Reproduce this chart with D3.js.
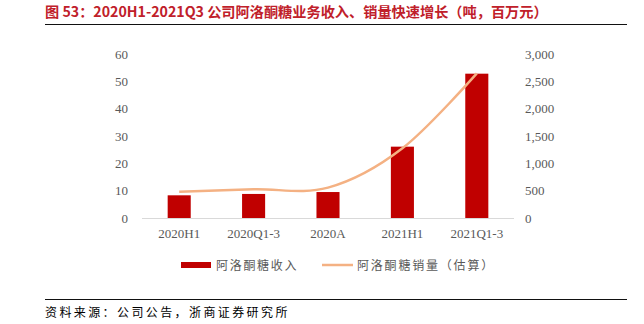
<!DOCTYPE html>
<html><head><meta charset="utf-8">
<script src="https://cdn.jsdelivr.net/npm/d3@7"></script>
<style>body{margin:0;background:#fff}svg{display:block}</style>
</head><body>
<script>
const categories = ["2020H1","2020Q1-3","2020A","2021H1","2021Q1-3"];
const revenue = [8.3, 8.8, 9.5, 26.1, 52.8];
const volume = [480, 525, 555, 1275, 2645];
const leftTicks = [0,10,20,30,40,50,60];
const rightTicks = [0,500,1000,1500,2000,2500,3000];
const seriesNames = ["阿洛酮糖收入","阿洛酮糖销量（估算）"];
const title = "图 53：2020H1-2021Q3 公司阿洛酮糖业务收入、销量快速增长（吨，百万元）";
const source = "资料来源：公司公告，浙商证券研究所";

const W=644,H=324;
const svg=d3.select("body").append("svg").attr("width",W).attr("height",H);
const x=d3.scaleBand().domain(categories).range([142,514]).paddingInner(0.69).paddingOuter(0.345);
const yL=d3.scaleLinear().domain([0,60]).range([218,54]);
const yR=d3.scaleLinear().domain([0,3000]).range([218,54]);

// title
svg.append("text").attr("x",45).attr("y",17).attr("fill","#C0202A")
  .attr("font-family","'Noto Sans CJK SC','Liberation Sans',sans-serif").attr("font-weight","bold")
  .attr("font-size",14.2).text(title);
svg.append("line").attr("x1",45).attr("x2",627).attr("y1",24.5).attr("y2",24.5).attr("stroke","#111").attr("stroke-width",1);

// axes
const axL=svg.append("g").attr("transform","translate(134,0)").call(d3.axisLeft(yL).tickValues(leftTicks).tickSize(0).tickPadding(0));
const axR=svg.append("g").attr("transform","translate(525,0)").call(d3.axisRight(yR).tickValues(rightTicks).tickSize(0).tickPadding(0).tickFormat(d3.format(",")));
const axX=svg.append("g").attr("transform","translate(0,218)").call(d3.axisBottom(x).tickSize(0).tickPadding(11));
[axL,axR,axX].forEach(a=>{a.select(".domain").remove();
  a.selectAll("text").attr("font-family","'Liberation Serif','Times New Roman',serif").attr("font-size",13).attr("fill","#595959");});
axL.selectAll("text").attr("dx",-6);

// bars
svg.append("g").selectAll("rect").data(categories).join("rect")
  .attr("x",d=>x(d)).attr("width",x.bandwidth())
  .attr("y",(d,i)=>yL(revenue[i])).attr("height",(d,i)=>yL(0)-yL(revenue[i]))
  .attr("fill","#C00000");
svg.append("line").attr("x1",142).attr("x2",514).attr("y1",218.5).attr("y2",218.5).attr("stroke","#D9D9D9").attr("stroke-width",1);

// line
const line=d3.line().x((d,i)=>x(categories[i])+x.bandwidth()/2).y(d=>yR(d)).curve(d3.curveCardinal.tension(0));
svg.append("path").datum(volume).attr("d",line).attr("fill","none").attr("stroke","#F4B183").attr("stroke-width",2.5);

// legend
const lf="'Noto Sans CJK SC',sans-serif";
svg.append("rect").attr("x",181).attr("y",262).attr("width",30).attr("height",6).attr("fill","#C00000");
svg.append("text").attr("x",216).attr("y",269.5).attr("font-family",lf).attr("font-size",12).attr("letter-spacing",1.7).attr("fill","#595959").text(seriesNames[0]);
svg.append("line").attr("x1",322).attr("x2",353).attr("y1",265).attr("y2",265).attr("stroke","#F4B183").attr("stroke-width",2.5);
svg.append("text").attr("x",357).attr("y",269.5).attr("font-family",lf).attr("font-size",12).attr("letter-spacing",1.8).attr("fill","#595959").text(seriesNames[1]);

// footer
svg.append("line").attr("x1",45).attr("x2",627).attr("y1",299.5).attr("y2",299.5).attr("stroke","#111").attr("stroke-width",1);
svg.append("text").attr("x",45).attr("y",317).attr("font-family",lf).attr("font-size",12).attr("letter-spacing",2.4).attr("fill","#000").text(source);
</script>
</body></html>
